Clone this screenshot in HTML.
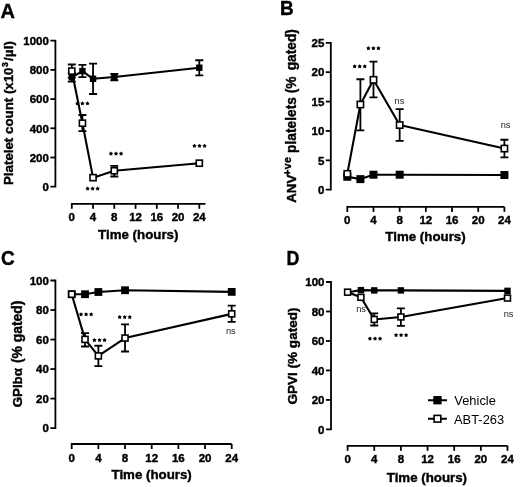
<!DOCTYPE html>
<html><head><meta charset="utf-8"><title>Figure</title>
<style>html,body{margin:0;padding:0;background:#fff;width:520px;height:487px;overflow:hidden}svg{display:block;filter:grayscale(1)}.t{stroke:#000;stroke-width:0.4px}</style>
</head><body>
<svg width="520" height="487" viewBox="0 0 520 487" font-family="'Liberation Sans', sans-serif" fill="#000">
<rect width="520" height="487" fill="#fff"/>
<path d="M50.40,40.70H55.40V186.70H50.40" fill="none" stroke="#000" stroke-width="1.8" stroke-linejoin="miter" stroke-linecap="butt"/>
<line x1="50.40" y1="157.50" x2="55.40" y2="157.50" stroke="#000" stroke-width="1.8"/>
<line x1="50.40" y1="128.30" x2="55.40" y2="128.30" stroke="#000" stroke-width="1.8"/>
<line x1="50.40" y1="99.10" x2="55.40" y2="99.10" stroke="#000" stroke-width="1.8"/>
<line x1="50.40" y1="69.90" x2="55.40" y2="69.90" stroke="#000" stroke-width="1.8"/>
<text x="48.90" y="190.90" text-anchor="end" font-size="11.5" font-weight="bold" class="t">0</text>
<text x="48.90" y="161.70" text-anchor="end" font-size="11.5" font-weight="bold" class="t">200</text>
<text x="48.90" y="132.50" text-anchor="end" font-size="11.5" font-weight="bold" class="t">400</text>
<text x="48.90" y="103.30" text-anchor="end" font-size="11.5" font-weight="bold" class="t">600</text>
<text x="48.90" y="74.10" text-anchor="end" font-size="11.5" font-weight="bold" class="t">800</text>
<text x="48.90" y="44.90" text-anchor="end" font-size="11.5" font-weight="bold" class="t">1000</text>
<path d="M71.80,208.80V203.80H205.50" fill="none" stroke="#000" stroke-width="1.8"/>
<line x1="93.05" y1="203.80" x2="93.05" y2="208.80" stroke="#000" stroke-width="1.8"/>
<line x1="114.30" y1="203.80" x2="114.30" y2="208.80" stroke="#000" stroke-width="1.8"/>
<line x1="135.55" y1="203.80" x2="135.55" y2="208.80" stroke="#000" stroke-width="1.8"/>
<line x1="156.80" y1="203.80" x2="156.80" y2="208.80" stroke="#000" stroke-width="1.8"/>
<line x1="178.05" y1="203.80" x2="178.05" y2="208.80" stroke="#000" stroke-width="1.8"/>
<line x1="199.30" y1="203.80" x2="199.30" y2="208.80" stroke="#000" stroke-width="1.8"/>
<text x="71.80" y="221.30" text-anchor="middle" font-size="11.5" font-weight="bold" class="t">0</text>
<text x="93.05" y="221.30" text-anchor="middle" font-size="11.5" font-weight="bold" class="t">4</text>
<text x="114.30" y="221.30" text-anchor="middle" font-size="11.5" font-weight="bold" class="t">8</text>
<text x="135.55" y="221.30" text-anchor="middle" font-size="11.5" font-weight="bold" class="t">12</text>
<text x="156.80" y="221.30" text-anchor="middle" font-size="11.5" font-weight="bold" class="t">16</text>
<text x="178.05" y="221.30" text-anchor="middle" font-size="11.5" font-weight="bold" class="t">20</text>
<text x="199.30" y="221.30" text-anchor="middle" font-size="11.5" font-weight="bold" class="t">24</text>
<text x="138.25" y="238.90" text-anchor="middle" font-size="13.3" font-weight="bold" class="t">Time (hours)</text>
<text transform="translate(13.10,185.00) rotate(-90)" font-size="13.3" font-weight="bold" class="t" xml:space="preserve">Platelet count (x10</text>
<text transform="translate(7.90,67.00) rotate(-90)" font-size="8.7" font-weight="bold" class="t" xml:space="preserve">3</text>
<text transform="translate(13.10,60.90) rotate(-90)" font-size="13.5" font-weight="bold" class="t" xml:space="preserve">/µl)</text>
<text transform="translate(0.50,18.20) scale(1,1)" font-size="20" font-weight="bold" class="t">A</text>
<path d="M71.80,77.35 L82.42,71.07 L93.05,78.81 L114.30,77.05 L199.30,67.71" fill="none" stroke="#000" stroke-width="2.1" stroke-linejoin="round"/>
<path d="M71.80,71.07 L82.42,123.19 L93.05,177.65 L114.30,170.79 L199.30,163.19" fill="none" stroke="#000" stroke-width="2.1" stroke-linejoin="round"/>
<path d="M71.80,73.11V81.58M67.80,73.11H75.80M67.80,81.58H75.80" stroke="#000" stroke-width="1.8" fill="none"/>
<path d="M82.42,64.94V77.20M78.42,64.94H86.42M78.42,77.20H86.42" stroke="#000" stroke-width="1.8" fill="none"/>
<path d="M93.05,63.62V93.99M89.05,63.62H97.05M89.05,93.99H97.05" stroke="#000" stroke-width="1.8" fill="none"/>
<path d="M114.30,73.99V80.27M110.30,73.99H118.30M110.30,80.27H118.30" stroke="#000" stroke-width="1.8" fill="none"/>
<path d="M199.30,60.26V75.45M195.30,60.26H203.30M195.30,75.45H203.30" stroke="#000" stroke-width="1.8" fill="none"/>
<rect x="68.60" y="74.15" width="6.4" height="6.4" fill="#000"/>
<rect x="79.22" y="67.87" width="6.4" height="6.4" fill="#000"/>
<rect x="89.85" y="75.61" width="6.4" height="6.4" fill="#000"/>
<rect x="111.10" y="73.85" width="6.4" height="6.4" fill="#000"/>
<rect x="196.10" y="64.51" width="6.4" height="6.4" fill="#000"/>
<path d="M71.80,64.50V77.64M67.80,64.50H75.80M67.80,77.64H75.80" stroke="#000" stroke-width="1.8" fill="none"/>
<path d="M82.42,115.01V131.07M78.42,115.01H86.42M78.42,131.07H86.42" stroke="#000" stroke-width="1.8" fill="none"/>
<path d="M114.30,165.97V176.48M110.30,165.97H118.30M110.30,176.48H118.30" stroke="#000" stroke-width="1.8" fill="none"/>
<rect x="68.75" y="68.02" width="6.10" height="6.10" fill="#fff" stroke="#000" stroke-width="1.6"/>
<rect x="79.38" y="120.14" width="6.10" height="6.10" fill="#fff" stroke="#000" stroke-width="1.6"/>
<rect x="90.00" y="174.60" width="6.10" height="6.10" fill="#fff" stroke="#000" stroke-width="1.6"/>
<rect x="111.25" y="167.74" width="6.10" height="6.10" fill="#fff" stroke="#000" stroke-width="1.6"/>
<rect x="196.25" y="160.14" width="6.10" height="6.10" fill="#fff" stroke="#000" stroke-width="1.6"/>
<polygon points="77.35,101.30 78.15,102.40 79.44,102.82 78.65,103.92 78.64,105.28 77.35,104.86 76.06,105.28 76.05,103.92 75.26,102.82 76.55,102.40" fill="#000"/>
<polygon points="82.40,101.30 83.20,102.40 84.49,102.82 83.70,103.92 83.69,105.28 82.40,104.86 81.11,105.28 81.10,103.92 80.31,102.82 81.60,102.40" fill="#000"/>
<polygon points="87.45,101.30 88.25,102.40 89.54,102.82 88.75,103.92 88.74,105.28 87.45,104.86 86.16,105.28 86.15,103.92 85.36,102.82 86.65,102.40" fill="#000"/>
<polygon points="87.55,186.50 88.35,187.60 89.64,188.02 88.85,189.12 88.84,190.48 87.55,190.06 86.26,190.48 86.25,189.12 85.46,188.02 86.75,187.60" fill="#000"/>
<polygon points="92.60,186.50 93.40,187.60 94.69,188.02 93.90,189.12 93.89,190.48 92.60,190.06 91.31,190.48 91.30,189.12 90.51,188.02 91.80,187.60" fill="#000"/>
<polygon points="97.65,186.50 98.45,187.60 99.74,188.02 98.95,189.12 98.94,190.48 97.65,190.06 96.36,190.48 96.35,189.12 95.56,188.02 96.85,187.60" fill="#000"/>
<polygon points="110.95,151.50 111.75,152.60 113.04,153.02 112.25,154.12 112.24,155.48 110.95,155.06 109.66,155.48 109.65,154.12 108.86,153.02 110.15,152.60" fill="#000"/>
<polygon points="116.00,151.50 116.80,152.60 118.09,153.02 117.30,154.12 117.29,155.48 116.00,155.06 114.71,155.48 114.70,154.12 113.91,153.02 115.20,152.60" fill="#000"/>
<polygon points="121.05,151.50 121.85,152.60 123.14,153.02 122.35,154.12 122.34,155.48 121.05,155.06 119.76,155.48 119.75,154.12 118.96,153.02 120.25,152.60" fill="#000"/>
<polygon points="194.45,143.70 195.25,144.80 196.54,145.22 195.75,146.32 195.74,147.68 194.45,147.26 193.16,147.68 193.15,146.32 192.36,145.22 193.65,144.80" fill="#000"/>
<polygon points="199.50,143.70 200.30,144.80 201.59,145.22 200.80,146.32 200.79,147.68 199.50,147.26 198.21,147.68 198.20,146.32 197.41,145.22 198.70,144.80" fill="#000"/>
<polygon points="204.55,143.70 205.35,144.80 206.64,145.22 205.85,146.32 205.84,147.68 204.55,147.26 203.26,147.68 203.25,146.32 202.46,145.22 203.75,144.80" fill="#000"/>
<path d="M325.80,42.80H330.80V189.70H325.80" fill="none" stroke="#000" stroke-width="1.8" stroke-linejoin="miter" stroke-linecap="butt"/>
<line x1="325.80" y1="160.32" x2="330.80" y2="160.32" stroke="#000" stroke-width="1.8"/>
<line x1="325.80" y1="130.94" x2="330.80" y2="130.94" stroke="#000" stroke-width="1.8"/>
<line x1="325.80" y1="101.56" x2="330.80" y2="101.56" stroke="#000" stroke-width="1.8"/>
<line x1="325.80" y1="72.18" x2="330.80" y2="72.18" stroke="#000" stroke-width="1.8"/>
<text x="324.30" y="193.90" text-anchor="end" font-size="11.5" font-weight="bold" class="t">0</text>
<text x="324.30" y="164.52" text-anchor="end" font-size="11.5" font-weight="bold" class="t">5</text>
<text x="324.30" y="135.14" text-anchor="end" font-size="11.5" font-weight="bold" class="t">10</text>
<text x="324.30" y="105.76" text-anchor="end" font-size="11.5" font-weight="bold" class="t">15</text>
<text x="324.30" y="76.38" text-anchor="end" font-size="11.5" font-weight="bold" class="t">20</text>
<text x="324.30" y="47.00" text-anchor="end" font-size="11.5" font-weight="bold" class="t">25</text>
<path d="M347.30,211.90V206.90H504.40" fill="none" stroke="#000" stroke-width="1.8"/>
<line x1="373.48" y1="206.90" x2="373.48" y2="211.90" stroke="#000" stroke-width="1.8"/>
<line x1="399.67" y1="206.90" x2="399.67" y2="211.90" stroke="#000" stroke-width="1.8"/>
<line x1="425.85" y1="206.90" x2="425.85" y2="211.90" stroke="#000" stroke-width="1.8"/>
<line x1="452.03" y1="206.90" x2="452.03" y2="211.90" stroke="#000" stroke-width="1.8"/>
<line x1="478.22" y1="206.90" x2="478.22" y2="211.90" stroke="#000" stroke-width="1.8"/>
<line x1="504.40" y1="206.90" x2="504.40" y2="211.90" stroke="#000" stroke-width="1.8"/>
<text x="347.30" y="224.40" text-anchor="middle" font-size="11.5" font-weight="bold" class="t">0</text>
<text x="373.48" y="224.40" text-anchor="middle" font-size="11.5" font-weight="bold" class="t">4</text>
<text x="399.67" y="224.40" text-anchor="middle" font-size="11.5" font-weight="bold" class="t">8</text>
<text x="425.85" y="224.40" text-anchor="middle" font-size="11.5" font-weight="bold" class="t">12</text>
<text x="452.03" y="224.40" text-anchor="middle" font-size="11.5" font-weight="bold" class="t">16</text>
<text x="478.22" y="224.40" text-anchor="middle" font-size="11.5" font-weight="bold" class="t">20</text>
<text x="504.40" y="224.40" text-anchor="middle" font-size="11.5" font-weight="bold" class="t">24</text>
<text x="425.50" y="241.30" text-anchor="middle" font-size="13.3" font-weight="bold" class="t">Time (hours)</text>
<text transform="translate(296.30,202.80) rotate(-90)" font-size="13.4" font-weight="bold" class="t" xml:space="preserve">ANV</text>
<text transform="translate(290.60,175.70) rotate(-90)" font-size="10.6" font-weight="bold" class="t" xml:space="preserve"><tspan letter-spacing="0.3">+ve</tspan></text>
<text transform="translate(296.30,152.90) rotate(-90)" font-size="13.75" font-weight="bold" class="t" xml:space="preserve">platelets (%</text>
<text transform="translate(296.30,70.30) rotate(-90)" font-size="13.75" font-weight="bold" class="t" xml:space="preserve">gated)</text>
<text transform="translate(280.00,15.20) scale(0.95,1)" font-size="20" font-weight="bold" class="t">B</text>
<path d="M347.30,176.77 L360.39,179.12 L373.48,174.72 L399.67,174.72 L504.40,175.01" fill="none" stroke="#000" stroke-width="2.1" stroke-linejoin="round"/>
<path d="M347.30,173.83 L360.39,104.50 L373.48,79.82 L399.67,125.06 L504.40,148.57" fill="none" stroke="#000" stroke-width="2.1" stroke-linejoin="round"/>
<rect x="343.30" y="172.77" width="8.0" height="8.0" fill="#000"/>
<rect x="356.39" y="175.12" width="8.0" height="8.0" fill="#000"/>
<rect x="369.48" y="170.72" width="8.0" height="8.0" fill="#000"/>
<rect x="395.67" y="170.72" width="8.0" height="8.0" fill="#000"/>
<rect x="500.40" y="171.01" width="8.0" height="8.0" fill="#000"/>
<path d="M360.39,79.23V130.35M356.39,79.23H364.39M356.39,130.35H364.39" stroke="#000" stroke-width="1.8" fill="none"/>
<path d="M373.48,61.60V97.45M369.48,61.60H377.48M369.48,97.45H377.48" stroke="#000" stroke-width="1.8" fill="none"/>
<path d="M399.67,109.20V140.93M395.67,109.20H403.67M395.67,140.93H403.67" stroke="#000" stroke-width="1.8" fill="none"/>
<path d="M504.40,139.75V157.38M500.40,139.75H508.40M500.40,157.38H508.40" stroke="#000" stroke-width="1.8" fill="none"/>
<rect x="344.15" y="170.68" width="6.30" height="6.30" fill="#fff" stroke="#000" stroke-width="1.6"/>
<rect x="357.24" y="101.35" width="6.30" height="6.30" fill="#fff" stroke="#000" stroke-width="1.6"/>
<rect x="370.33" y="76.67" width="6.30" height="6.30" fill="#fff" stroke="#000" stroke-width="1.6"/>
<rect x="396.52" y="121.91" width="6.30" height="6.30" fill="#fff" stroke="#000" stroke-width="1.6"/>
<rect x="501.25" y="145.42" width="6.30" height="6.30" fill="#fff" stroke="#000" stroke-width="1.6"/>
<polygon points="354.65,64.20 355.45,65.30 356.74,65.72 355.95,66.82 355.94,68.18 354.65,67.76 353.36,68.18 353.35,66.82 352.56,65.72 353.85,65.30" fill="#000"/>
<polygon points="359.70,64.20 360.50,65.30 361.79,65.72 361.00,66.82 360.99,68.18 359.70,67.76 358.41,68.18 358.40,66.82 357.61,65.72 358.90,65.30" fill="#000"/>
<polygon points="364.75,64.20 365.55,65.30 366.84,65.72 366.05,66.82 366.04,68.18 364.75,67.76 363.46,68.18 363.45,66.82 362.66,65.72 363.95,65.30" fill="#000"/>
<polygon points="368.35,46.10 369.15,47.20 370.44,47.62 369.65,48.72 369.64,50.08 368.35,49.66 367.06,50.08 367.05,48.72 366.26,47.62 367.55,47.20" fill="#000"/>
<polygon points="373.40,46.10 374.20,47.20 375.49,47.62 374.70,48.72 374.69,50.08 373.40,49.66 372.11,50.08 372.10,48.72 371.31,47.62 372.60,47.20" fill="#000"/>
<polygon points="378.45,46.10 379.25,47.20 380.54,47.62 379.75,48.72 379.74,50.08 378.45,49.66 377.16,50.08 377.15,48.72 376.36,47.62 377.65,47.20" fill="#000"/>
<text x="399.50" y="103.70" text-anchor="middle" font-size="9.3" fill="#1a1a1a">ns</text>
<text x="505.60" y="127.90" text-anchor="middle" font-size="9.3" fill="#1a1a1a">ns</text>
<path d="M50.40,280.50H55.40V428.10H50.40" fill="none" stroke="#000" stroke-width="1.8" stroke-linejoin="miter" stroke-linecap="butt"/>
<line x1="50.40" y1="398.58" x2="55.40" y2="398.58" stroke="#000" stroke-width="1.8"/>
<line x1="50.40" y1="369.06" x2="55.40" y2="369.06" stroke="#000" stroke-width="1.8"/>
<line x1="50.40" y1="339.54" x2="55.40" y2="339.54" stroke="#000" stroke-width="1.8"/>
<line x1="50.40" y1="310.02" x2="55.40" y2="310.02" stroke="#000" stroke-width="1.8"/>
<text x="48.90" y="432.30" text-anchor="end" font-size="11.5" font-weight="bold" class="t">0</text>
<text x="48.90" y="402.78" text-anchor="end" font-size="11.5" font-weight="bold" class="t">20</text>
<text x="48.90" y="373.26" text-anchor="end" font-size="11.5" font-weight="bold" class="t">40</text>
<text x="48.90" y="343.74" text-anchor="end" font-size="11.5" font-weight="bold" class="t">60</text>
<text x="48.90" y="314.22" text-anchor="end" font-size="11.5" font-weight="bold" class="t">80</text>
<text x="48.90" y="284.70" text-anchor="end" font-size="11.5" font-weight="bold" class="t">100</text>
<path d="M71.70,449.00V444.00H231.70" fill="none" stroke="#000" stroke-width="1.8"/>
<line x1="98.37" y1="444.00" x2="98.37" y2="449.00" stroke="#000" stroke-width="1.8"/>
<line x1="125.03" y1="444.00" x2="125.03" y2="449.00" stroke="#000" stroke-width="1.8"/>
<line x1="151.70" y1="444.00" x2="151.70" y2="449.00" stroke="#000" stroke-width="1.8"/>
<line x1="178.37" y1="444.00" x2="178.37" y2="449.00" stroke="#000" stroke-width="1.8"/>
<line x1="205.03" y1="444.00" x2="205.03" y2="449.00" stroke="#000" stroke-width="1.8"/>
<line x1="231.70" y1="444.00" x2="231.70" y2="449.00" stroke="#000" stroke-width="1.8"/>
<text x="71.70" y="461.50" text-anchor="middle" font-size="11.5" font-weight="bold" class="t">0</text>
<text x="98.37" y="461.50" text-anchor="middle" font-size="11.5" font-weight="bold" class="t">4</text>
<text x="125.03" y="461.50" text-anchor="middle" font-size="11.5" font-weight="bold" class="t">8</text>
<text x="151.70" y="461.50" text-anchor="middle" font-size="11.5" font-weight="bold" class="t">12</text>
<text x="178.37" y="461.50" text-anchor="middle" font-size="11.5" font-weight="bold" class="t">16</text>
<text x="205.03" y="461.50" text-anchor="middle" font-size="11.5" font-weight="bold" class="t">20</text>
<text x="231.70" y="461.50" text-anchor="middle" font-size="11.5" font-weight="bold" class="t">24</text>
<text x="151.65" y="479.20" text-anchor="middle" font-size="13.3" font-weight="bold" class="t">Time (hours)</text>
<text transform="translate(22.00,407.30) rotate(-90)" font-size="13.3" font-weight="bold" class="t" xml:space="preserve">GPIbα</text>
<text transform="translate(22.00,363.10) rotate(-90)" font-size="13.9" font-weight="bold" class="t" xml:space="preserve">(% gated)</text>
<text transform="translate(1.10,264.50) scale(0.95,1)" font-size="20" font-weight="bold" class="t">C</text>
<path d="M71.70,294.23 L85.03,294.23 L98.37,292.01 L125.03,290.24 L231.70,291.87" fill="none" stroke="#000" stroke-width="2.1" stroke-linejoin="round"/>
<path d="M71.70,294.23 L85.03,339.39 L98.37,355.92 L125.03,338.06 L231.70,313.86" fill="none" stroke="#000" stroke-width="2.1" stroke-linejoin="round"/>
<rect x="67.80" y="290.33" width="7.8" height="7.8" fill="#000"/>
<rect x="81.13" y="290.33" width="7.8" height="7.8" fill="#000"/>
<rect x="94.47" y="288.11" width="7.8" height="7.8" fill="#000"/>
<rect x="121.13" y="286.34" width="7.8" height="7.8" fill="#000"/>
<rect x="227.80" y="287.97" width="7.8" height="7.8" fill="#000"/>
<path d="M85.03,333.05V346.48M81.03,333.05H89.03M81.03,346.48H89.03" stroke="#000" stroke-width="1.8" fill="none"/>
<path d="M98.37,345.74V366.11M94.37,345.74H102.37M94.37,366.11H102.37" stroke="#000" stroke-width="1.8" fill="none"/>
<path d="M125.03,324.34V351.50M121.03,324.34H129.03M121.03,351.50H129.03" stroke="#000" stroke-width="1.8" fill="none"/>
<path d="M231.70,305.59V321.83M227.70,305.59H235.70M227.70,321.83H235.70" stroke="#000" stroke-width="1.8" fill="none"/>
<rect x="68.70" y="291.23" width="6.00" height="6.00" fill="#fff" stroke="#000" stroke-width="1.6"/>
<rect x="82.03" y="336.39" width="6.00" height="6.00" fill="#fff" stroke="#000" stroke-width="1.6"/>
<rect x="95.37" y="352.92" width="6.00" height="6.00" fill="#fff" stroke="#000" stroke-width="1.6"/>
<rect x="122.03" y="335.06" width="6.00" height="6.00" fill="#fff" stroke="#000" stroke-width="1.6"/>
<rect x="228.70" y="310.86" width="6.00" height="6.00" fill="#fff" stroke="#000" stroke-width="1.6"/>
<polygon points="81.05,312.20 81.85,313.30 83.14,313.72 82.35,314.82 82.34,316.18 81.05,315.76 79.76,316.18 79.75,314.82 78.96,313.72 80.25,313.30" fill="#000"/>
<polygon points="86.10,312.20 86.90,313.30 88.19,313.72 87.40,314.82 87.39,316.18 86.10,315.76 84.81,316.18 84.80,314.82 84.01,313.72 85.30,313.30" fill="#000"/>
<polygon points="91.15,312.20 91.95,313.30 93.24,313.72 92.45,314.82 92.44,316.18 91.15,315.76 89.86,316.18 89.85,314.82 89.06,313.72 90.35,313.30" fill="#000"/>
<polygon points="94.45,338.00 95.25,339.10 96.54,339.52 95.75,340.62 95.74,341.98 94.45,341.56 93.16,341.98 93.15,340.62 92.36,339.52 93.65,339.10" fill="#000"/>
<polygon points="99.50,338.00 100.30,339.10 101.59,339.52 100.80,340.62 100.79,341.98 99.50,341.56 98.21,341.98 98.20,340.62 97.41,339.52 98.70,339.10" fill="#000"/>
<polygon points="104.55,338.00 105.35,339.10 106.64,339.52 105.85,340.62 105.84,341.98 104.55,341.56 103.26,341.98 103.25,340.62 102.46,339.52 103.75,339.10" fill="#000"/>
<polygon points="119.65,315.00 120.45,316.10 121.74,316.52 120.95,317.62 120.94,318.98 119.65,318.56 118.36,318.98 118.35,317.62 117.56,316.52 118.85,316.10" fill="#000"/>
<polygon points="124.70,315.00 125.50,316.10 126.79,316.52 126.00,317.62 125.99,318.98 124.70,318.56 123.41,318.98 123.40,317.62 122.61,316.52 123.90,316.10" fill="#000"/>
<polygon points="129.75,315.00 130.55,316.10 131.84,316.52 131.05,317.62 131.04,318.98 129.75,318.56 128.46,318.98 128.45,317.62 127.66,316.52 128.95,316.10" fill="#000"/>
<text x="230.80" y="334.30" text-anchor="middle" font-size="9.3" fill="#1a1a1a">ns</text>
<path d="M326.00,282.00H331.00V429.40H326.00" fill="none" stroke="#000" stroke-width="1.8" stroke-linejoin="miter" stroke-linecap="butt"/>
<line x1="326.00" y1="399.92" x2="331.00" y2="399.92" stroke="#000" stroke-width="1.8"/>
<line x1="326.00" y1="370.44" x2="331.00" y2="370.44" stroke="#000" stroke-width="1.8"/>
<line x1="326.00" y1="340.96" x2="331.00" y2="340.96" stroke="#000" stroke-width="1.8"/>
<line x1="326.00" y1="311.48" x2="331.00" y2="311.48" stroke="#000" stroke-width="1.8"/>
<text x="324.50" y="433.60" text-anchor="end" font-size="11.5" font-weight="bold" class="t">0</text>
<text x="324.50" y="404.12" text-anchor="end" font-size="11.5" font-weight="bold" class="t">20</text>
<text x="324.50" y="374.64" text-anchor="end" font-size="11.5" font-weight="bold" class="t">40</text>
<text x="324.50" y="345.16" text-anchor="end" font-size="11.5" font-weight="bold" class="t">60</text>
<text x="324.50" y="315.68" text-anchor="end" font-size="11.5" font-weight="bold" class="t">80</text>
<text x="324.50" y="286.20" text-anchor="end" font-size="11.5" font-weight="bold" class="t">100</text>
<path d="M347.60,450.80V445.80H507.50" fill="none" stroke="#000" stroke-width="1.8"/>
<line x1="374.25" y1="445.80" x2="374.25" y2="450.80" stroke="#000" stroke-width="1.8"/>
<line x1="400.90" y1="445.80" x2="400.90" y2="450.80" stroke="#000" stroke-width="1.8"/>
<line x1="427.55" y1="445.80" x2="427.55" y2="450.80" stroke="#000" stroke-width="1.8"/>
<line x1="454.20" y1="445.80" x2="454.20" y2="450.80" stroke="#000" stroke-width="1.8"/>
<line x1="480.85" y1="445.80" x2="480.85" y2="450.80" stroke="#000" stroke-width="1.8"/>
<line x1="507.50" y1="445.80" x2="507.50" y2="450.80" stroke="#000" stroke-width="1.8"/>
<text x="347.60" y="463.30" text-anchor="middle" font-size="11.5" font-weight="bold" class="t">0</text>
<text x="374.25" y="463.30" text-anchor="middle" font-size="11.5" font-weight="bold" class="t">4</text>
<text x="400.90" y="463.30" text-anchor="middle" font-size="11.5" font-weight="bold" class="t">8</text>
<text x="427.55" y="463.30" text-anchor="middle" font-size="11.5" font-weight="bold" class="t">12</text>
<text x="454.20" y="463.30" text-anchor="middle" font-size="11.5" font-weight="bold" class="t">16</text>
<text x="480.85" y="463.30" text-anchor="middle" font-size="11.5" font-weight="bold" class="t">20</text>
<text x="507.50" y="463.30" text-anchor="middle" font-size="11.5" font-weight="bold" class="t">24</text>
<text x="426.90" y="482.00" text-anchor="middle" font-size="13.3" font-weight="bold" class="t">Time (hours)</text>
<text transform="translate(297.10,404.60) rotate(-90)" font-size="13.55" font-weight="bold" class="t" xml:space="preserve">GPVI (% gated)</text>
<text transform="translate(286.50,264.50) scale(0.89,1)" font-size="20" font-weight="bold" class="t">D</text>
<path d="M347.60,292.17 L360.93,290.11 L374.25,290.40 L400.90,290.40 L507.50,290.84" fill="none" stroke="#000" stroke-width="2.1" stroke-linejoin="round"/>
<path d="M347.60,292.17 L360.93,297.33 L374.25,319.44 L400.90,316.93 L507.50,298.07" fill="none" stroke="#000" stroke-width="2.1" stroke-linejoin="round"/>
<rect x="344.40" y="288.97" width="6.4" height="6.4" fill="#000"/>
<rect x="357.73" y="286.91" width="6.4" height="6.4" fill="#000"/>
<rect x="371.05" y="287.20" width="6.4" height="6.4" fill="#000"/>
<rect x="397.70" y="287.20" width="6.4" height="6.4" fill="#000"/>
<rect x="504.30" y="287.64" width="6.4" height="6.4" fill="#000"/>
<path d="M374.25,313.40V325.48M370.25,313.40H378.25M370.25,325.48H378.25" stroke="#000" stroke-width="1.8" fill="none"/>
<path d="M400.90,308.38V325.78M396.90,308.38H404.90M396.90,325.78H404.90" stroke="#000" stroke-width="1.8" fill="none"/>
<rect x="344.65" y="289.22" width="5.90" height="5.90" fill="#fff" stroke="#000" stroke-width="1.6"/>
<rect x="357.98" y="294.38" width="5.90" height="5.90" fill="#fff" stroke="#000" stroke-width="1.6"/>
<rect x="371.30" y="316.49" width="5.90" height="5.90" fill="#fff" stroke="#000" stroke-width="1.6"/>
<rect x="397.95" y="313.98" width="5.90" height="5.90" fill="#fff" stroke="#000" stroke-width="1.6"/>
<rect x="504.55" y="295.12" width="5.90" height="5.90" fill="#fff" stroke="#000" stroke-width="1.6"/>
<text x="361.10" y="312.10" text-anchor="middle" font-size="9.3" fill="#1a1a1a">ns</text>
<polygon points="369.95,336.40 370.75,337.50 372.04,337.92 371.25,339.02 371.24,340.38 369.95,339.96 368.66,340.38 368.65,339.02 367.86,337.92 369.15,337.50" fill="#000"/>
<polygon points="375.00,336.40 375.80,337.50 377.09,337.92 376.30,339.02 376.29,340.38 375.00,339.96 373.71,340.38 373.70,339.02 372.91,337.92 374.20,337.50" fill="#000"/>
<polygon points="380.05,336.40 380.85,337.50 382.14,337.92 381.35,339.02 381.34,340.38 380.05,339.96 378.76,340.38 378.75,339.02 377.96,337.92 379.25,337.50" fill="#000"/>
<polygon points="396.05,333.00 396.85,334.10 398.14,334.52 397.35,335.62 397.34,336.98 396.05,336.56 394.76,336.98 394.75,335.62 393.96,334.52 395.25,334.10" fill="#000"/>
<polygon points="401.10,333.00 401.90,334.10 403.19,334.52 402.40,335.62 402.39,336.98 401.10,336.56 399.81,336.98 399.80,335.62 399.01,334.52 400.30,334.10" fill="#000"/>
<polygon points="406.15,333.00 406.95,334.10 408.24,334.52 407.45,335.62 407.44,336.98 406.15,336.56 404.86,336.98 404.85,335.62 404.06,334.52 405.35,334.10" fill="#000"/>
<text x="508.60" y="316.90" text-anchor="middle" font-size="9.3" fill="#1a1a1a">ns</text>
<path d="M428.0,400.3H446.9M428.0,418.8H446.9" stroke="#000" stroke-width="2.1"/>
<rect x="433.30" y="396.05" width="8.3" height="8.3" fill="#000"/>
<rect x="434.10" y="415.40" width="6.70" height="6.70" fill="#fff" stroke="#000" stroke-width="1.6"/>
<text x="454.3" y="405.4" font-size="12.9">Vehicle</text>
<text x="454.0" y="423.8" font-size="12.9">ABT-263</text>
</svg>
</body></html>
